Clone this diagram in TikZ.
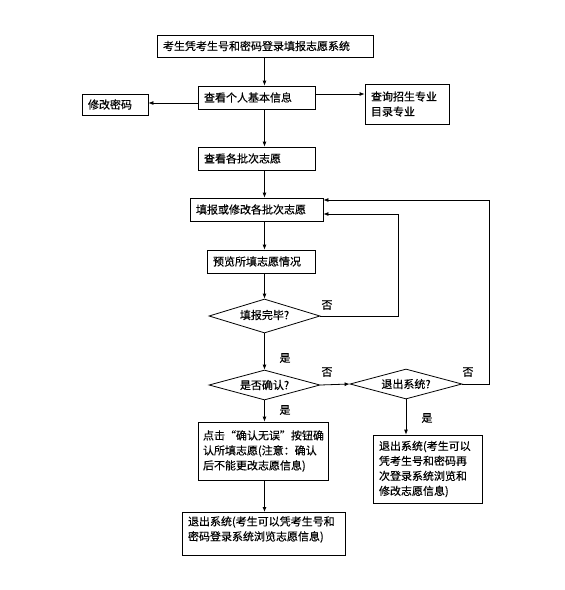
\documentclass[tikz,border=0pt]{standalone}
\usepackage{fontspec}
\newfontfamily\cjk[FakeBold=0.4]{Noto Sans CJK SC}
\usetikzlibrary{arrows.meta,shapes.geometric}
\begin{document}
\begin{tikzpicture}[x=1pt,y=-1pt,
  every node/.style={font=\cjk\fontsize{11}{15}\selectfont},
  box/.style={draw,line width=0.8pt,inner xsep=6pt,inner ysep=0pt,align=left},
  dia/.style={draw,diamond,line width=0.8pt,inner sep=0pt},
  arr/.style={line width=0.8pt,-{Latex[length=5pt,width=4pt]}},
  lbl/.style={inner sep=0pt}]
\useasboundingbox (0,0) rectangle (565,590);
\fill[white] (0,0) rectangle (565,590);
\newcommand\bx[6]{\node[box,minimum width=#4pt,minimum height=#5pt,text width=#4pt-12pt] (#1) at (#2,#3) {#6};}
\bx{b1}{265}{46}{216}{22}{考生凭考生号和密码登录填报志愿系统}
\bx{b2}{256.5}{97.5}{117}{23}{查看个人基本信息}
\bx{pw}{115}{104.5}{66}{21}{修改密码}
\bx{cx}{407}{104}{84}{40}{查询招生专业\\目录专业}
\bx{b3}{256.5}{158.5}{117}{23}{查看各批次志愿}
\bx{b4}{256.5}{209.5}{133}{23}{填报或修改各批次志愿}
\bx{b5}{261}{261.5}{108}{23}{预览所填志愿情况}
\node[dia,aspect=3.26,minimum width=111pt,minimum height=34pt] (d1) at (264.5,316) {\raisebox{3pt}{填报完毕?}};
\node[dia,aspect=3.7,minimum width=111pt,minimum height=30pt] (d2) at (264.5,385) {是否确认?};
\node[dia,aspect=3.73,minimum width=112pt,minimum height=30pt] (d3) at (406,384) {退出系统?};
\node[box,minimum width=130pt,minimum height=58pt,inner xsep=5pt,text width=120pt] (b6) at (263,451) {点击“确认无误”按钮确\\认所填志愿(注意：确认\\后不能更改志愿信息)};
\bx{b7}{427.5}{469}{109}{68}{退出系统(考生可以\\凭考生号和密码再\\次登录系统浏览和\\修改志愿信息)}
\node[box,minimum width=163pt,minimum height=43pt,text width=151pt,anchor=north] (b8) at (263.5,512) {退出系统(考生可以凭考生号和\\密码登录系统浏览志愿信息)\rule[-11pt]{0pt}{1pt}};
\coordinate (mx) at (264.5,0);
\coordinate (fb1) at (398,0);
\coordinate (fb2) at (489,0);
\coordinate (lw) at ([yshift=-5.5pt]b2.west);
\coordinate (re) at ([yshift=3.5pt]b2.east);
\coordinate (in1) at ([yshift=-4.5pt]b4.east);
\coordinate (in2) at ([yshift=9.5pt]b4.east);
\draw[arr] (mx |- b1.south) -- (mx |- b2.north);
\draw[arr] (lw) -- (pw.east |- lw);
\draw[arr] (re) -- (cx.west |- re);
\draw[arr] (mx |- b2.south) -- (mx |- b3.north);
\draw[arr] (mx |- b3.south) -- (mx |- b4.north);
\draw[arr] (mx |- b4.south) -- (mx |- b5.north);
\draw[arr] (mx |- b5.south) -- (d1.north);
\draw[arr] (d1.east) -- (d1.east -| fb1) |- (in1);
\draw[arr] (d1.south) -- (d2.north);
\draw[arr] (d2.east) -- (d3.west);
\draw[arr] (d3.east) -- (d3.east -| fb2) |- (in2);
\draw[arr] (d2.south) -- (mx |- b6.north);
\draw[arr] (d3.south) -- (d3.south |- b7.north);
\draw[arr] (mx |- b6.south) -- (mx |- b8.north);
\node[lbl] (n1) at (327,305) {否};
\node[lbl] (y1) at (285,358) {是};
\node[lbl] (n2) at (327,372) {否};
\node[lbl] (n3) at (468,372) {否};
\node[lbl] (y2) at (285,410) {是};
\node[lbl] (y3) at (427,418) {是};
\end{tikzpicture}
\end{document}
